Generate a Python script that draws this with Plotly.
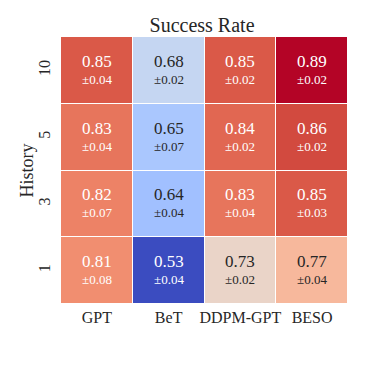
import plotly.graph_objects as go

methods = ['GPT', 'BeT', 'DDPM-GPT', 'BESO']
history = ['1', '3', '5', '10']
# rows follow history order (bottom to top)
means = [
    [0.81, 0.53, 0.73, 0.77],
    [0.82, 0.64, 0.83, 0.85],
    [0.83, 0.65, 0.84, 0.86],
    [0.85, 0.68, 0.85, 0.89],
]
stds = [
    [0.08, 0.04, 0.02, 0.04],
    [0.07, 0.04, 0.04, 0.03],
    [0.04, 0.07, 0.02, 0.02],
    [0.04, 0.02, 0.02, 0.02],
]

# matplotlib coolwarm
cw = [
    (59, 76, 192), (68, 90, 204), (77, 104, 215), (87, 117, 225), (98, 130, 234),
    (108, 142, 241), (119, 154, 247), (130, 165, 251), (141, 176, 254), (152, 185, 255),
    (163, 194, 255), (174, 201, 253), (184, 208, 249), (194, 213, 244), (204, 217, 238),
    (213, 219, 230), (221, 221, 221), (229, 216, 209), (236, 211, 197), (241, 204, 185),
    (245, 196, 173), (247, 187, 160), (247, 177, 148), (247, 166, 135), (244, 154, 123),
    (241, 141, 111), (236, 127, 99), (229, 112, 88), (222, 96, 77), (213, 80, 66),
    (203, 62, 56), (192, 40, 47), (180, 4, 38),
]
coolwarm = [[i / (len(cw) - 1), 'rgb(%d,%d,%d)' % c] for i, c in enumerate(cw)]

zmin = min(min(r) for r in means)
zmax = max(max(r) for r in means)

fig = go.Figure(go.Heatmap(
    z=means, x=methods, y=history,
    colorscale=coolwarm, zmin=zmin, zmax=zmax,
    showscale=False, xgap=1, ygap=1, hoverinfo='skip',
))

serif = 'Liberation Serif'
for i, h in enumerate(history):
    for j, m in enumerate(methods):
        v = means[i][j]
        frac = (v - zmin) / (zmax - zmin)
        col = '#262626' if 0.25 < frac < 0.7 else 'white'
        fig.add_annotation(x=j, y=i, xref='x', yref='y', showarrow=False, yshift=9,
                           text='%.2f' % v, font=dict(family=serif, size=17, color=col))
        fig.add_annotation(x=j, y=i, xref='x', yref='y', showarrow=False, yshift=-9,
                           text='±%.2f' % stds[i][j],
                           font=dict(family=serif, size=13, color=col))

# y axis title as a rotated annotation so it sits where the original has it
fig.add_annotation(x=0, y=0.5, xref='paper', yref='paper', xanchor='center',
                   yanchor='middle', xshift=-35, showarrow=False,
                   textangle=-90, text='History',
                   font=dict(family=serif, size=18, color='#262626'))

# page body adds ~8px, so the figure is sized a bit smaller
fig.update_layout(
    width=358, height=358,
    margin=dict(l=53, r=18, t=29, b=62),
    paper_bgcolor='white', plot_bgcolor='white',
    font=dict(family=serif, size=16, color='#262626'),
    title=dict(text='Success Rate', x=0.542, xanchor='center', y=0.953, yanchor='middle',
               font=dict(family=serif, size=20, color='#262626')),
    xaxis=dict(type='category', showgrid=False, zeroline=False, ticks='',
               ticklabelstandoff=2, automargin=False),
    yaxis=dict(type='category', showgrid=False, zeroline=False, ticks='', tickangle=-90,
               ticklabelstandoff=7, automargin=False),
)

fig.write_html('out.html')
